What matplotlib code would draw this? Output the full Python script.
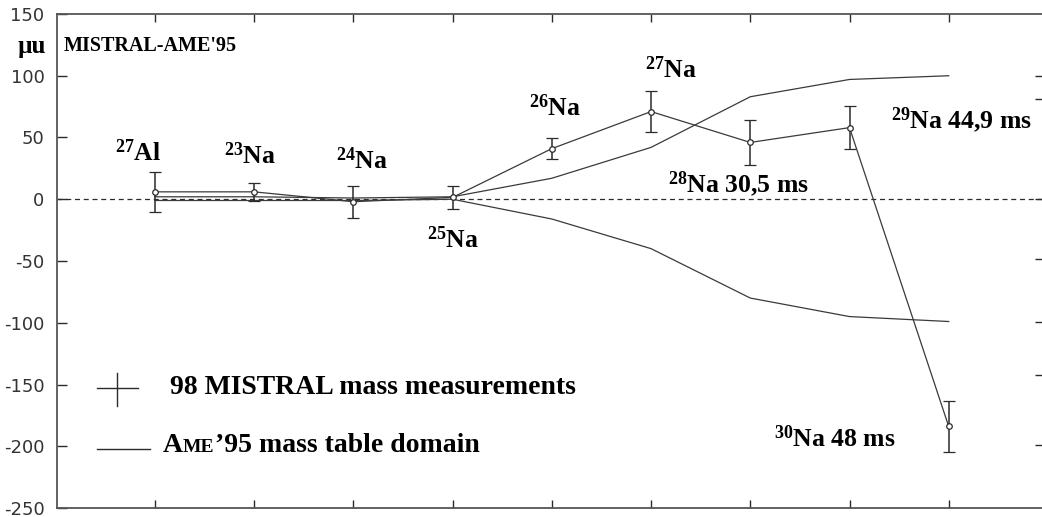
import matplotlib
matplotlib.use("Agg")
import matplotlib.pyplot as plt
import matplotlib.transforms as mtransforms

plt.rcParams['mathtext.fontset'] = 'custom'
plt.rcParams['mathtext.rm'] = 'Liberation Serif:bold'
plt.rcParams['mathtext.default'] = 'rm'
plt.rcParams['axes.unicode_minus'] = False

# masse mesurees MISTRAL - AME'95 (micro-u)
positions = [1, 2, 3, 4, 5, 6, 7, 8, 9]
mistral_y = [6, 6, -2, 1.5, 41, 71, 46, 58, -184]
mistral_err = [16, 7.5, 13, 9, 8.5, 16.5, 18, 17.5, 21]
ame_upper = [2, 2, 1, 2, 17, 42, 83, 97, 100]
ame_lower = [-1, -1, -1, 0, -16, -40, -80, -95, -99]

nuclide_labels = [r'$^{27}$Al', r'$^{23}$Na', r'$^{24}$Na', r'$^{25}$Na', r'$^{26}$Na',
                  r'$^{27}$Na', r'$^{28}$Na 30,5 ms', r'$^{29}$Na 44,9 ms', r'$^{30}$Na 48 ms']
label_x = [0.83, 1.96, 3.09, 4.0, 5.03, 6.2, 6.17, 8.42, 7.24]
label_y = [38, 35, 31, -33, 74, 105, 12, 64.5, -194]
label_ha = ['center'] * 6 + ['left'] * 3

yticks = [-250, -200, -150, -100, -50, 0, 50, 100, 150]
right_ticks = [100, 81, 0, -48, -99, -142, -199]

line_col = '#2b2b2b'
serif = 'Liberation Serif'

fig = plt.figure(figsize=(10.42, 5.17), dpi=100)
ax = fig.add_axes([57 / 1042, 9 / 517, 985 / 1042, 494 / 517])

ax.axhline(0, color=line_col, lw=0.9, ls=(0, (4, 3)))
ax.plot(positions, ame_upper, color='#3a3a3a', lw=0.9)
ax.plot(positions, ame_lower, color='#3a3a3a', lw=0.9)
ax.errorbar(positions, mistral_y, yerr=mistral_err, color='#3a3a3a', lw=0.9,
            ecolor=line_col, elinewidth=1.1, capsize=4, capthick=1.1, marker='o', ms=4,
            mfc='white', mec=line_col, mew=0.9)

for lab, x, y, ha in zip(nuclide_labels, label_x, label_y, label_ha):
    ax.text(x, y, lab, ha=ha, va='center', fontsize=18.5, fontweight='bold',
            family=serif, color='black')

ax.set_xlim(0.013, 9.94)
ax.set_ylim(-250, 150)
ax.set_xticks(positions)
ax.set_yticks(yticks)
ax.tick_params(axis='x', direction='in', length=6, width=1, top=True,
               bottom=True, labelbottom=False, color=line_col)
ax.tick_params(axis='y', direction='in', length=7, width=1, pad=9,
               labelsize=13, labelcolor='#333333', color=line_col)
for side in ['left', 'top', 'bottom']:
    ax.spines[side].set_color('#555555')
    ax.spines[side].set_linewidth(1.3)
ax.spines['right'].set_visible(False)

ax2 = ax.twinx()
ax2.set_ylim(ax.get_ylim())
ax2.set_yticks(right_ticks)
ax2.tick_params(axis='y', direction='in', length=5, width=1, labelright=False,
                color=line_col)
for sp in ax2.spines.values():
    sp.set_visible(False)

# unite et titre
fig.text(18 / 1042, 1 - 46 / 517, 'µu', fontsize=18, fontweight='bold',
         family=serif, va='center')
fig.text(64 / 1042, 1 - 46 / 517, "MISTRAL-AME'95", fontsize=14.5, fontweight='bold',
         family=serif, va='center')

# legende
ax.plot([(97 - 57) / 985, (138 - 57) / 985], [1 - (388 - 14) / 494] * 2,
        transform=ax.transAxes, color=line_col, lw=1)
ax.plot([(117 - 57) / 985] * 2, [1 - (373 - 14) / 494, 1 - (406 - 14) / 494],
        transform=ax.transAxes, color=line_col, lw=1)
ax.text((170 - 57) / 985, 1 - (388 - 14) / 494, '98 MISTRAL mass measurements',
        transform=ax.transAxes, fontsize=20, fontweight='bold', family=serif,
        va='center')
ax.plot([(97 - 57) / 985, (150 - 57) / 985], [1 - (449 - 14) / 494] * 2,
        transform=ax.transAxes, color=line_col, lw=1)

renderer = fig.canvas.get_renderer()
pieces = [('A', 20), ('ME', 14), ("’95 mass table domain", 20)]
prev = None
for txt, size in pieces:
    if prev is None:
        t = ax.text((163 - 57) / 985, 1 - (452 - 14) / 494, txt, transform=ax.transAxes,
                    fontsize=size, fontweight='bold', family=serif, va='baseline')
    else:
        w = prev.get_window_extent(renderer).width
        tr = mtransforms.offset_copy(prev.get_transform(), fig=fig, x=w, y=0, units='dots')
        t = ax.text(prev.get_position()[0], prev.get_position()[1], txt, transform=tr,
                    fontsize=size, fontweight='bold', family=serif, va='baseline')
    prev = t

fig.savefig('out.png', dpi=100)
